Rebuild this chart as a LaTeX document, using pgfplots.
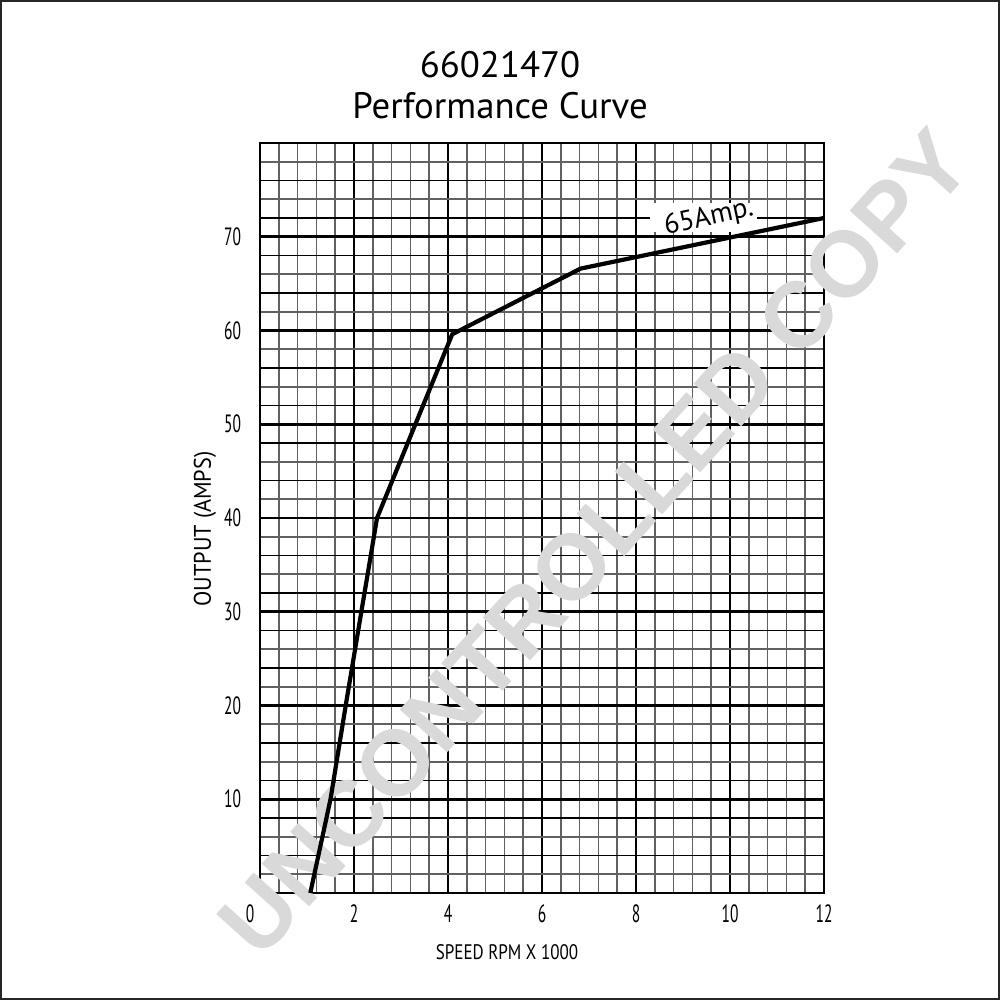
\documentclass[border=0pt]{standalone}
\usepackage{pgfplots}
\pgfplotsset{compat=1.18}
\usepackage{fontspec}
\setmainfont{PT Sans}
\newfontfamily\wmfont{Liberation Sans}
\definecolor{wm}{gray}{0.85}
\newcommand{\tl}[1]{\scalebox{0.62}[1]{#1}}
\begin{document}
\begin{tikzpicture}
\useasboundingbox (0,0) rectangle (500pt,500pt);
\fill[white] (0,0) rectangle (500pt,500pt);
\draw[black!85, line width=1pt] (0.5pt,0.5pt) rectangle (499.5pt,499.5pt);
\node[font=\fontsize{18.4}{22}\selectfont] at (250pt,467.5pt) {66021470};
\node[font=\fontsize{18.4}{22}\selectfont] at (250pt,447pt) {Performance Curve};
\node[rotate=90, font=\fontsize{12}{14}\selectfont] at (102.5pt,235.5pt) {\scalebox{0.93}[1]{OUTPUT (AMPS)}};
\node[font=\fontsize{10.5}{12}\selectfont] at (253.5pt,24pt) {\scalebox{0.81}[1]{SPEED RPM X 1000}};
\begin{axis}[at={(130pt,53.5pt)}, anchor=south west, width=282pt, height=375pt, scale only axis,
  xmin=0, xmax=12, ymin=0, ymax=80,
  xtick={0,2,4,6,8,10,12}, ytick={10,20,30,40,50,60,70},
  xticklabels={\tl{0}\hspace*{10pt},\tl{2},\tl{4},\tl{6},\tl{8},\tl{10},\tl{12}},
  yticklabels={\tl{10},\tl{20},\tl{30},\tl{40},\tl{50},\tl{60},\tl{70}},
  minor xtick={0.4,0.8,1.2,1.6,2.4,2.8,3.2,3.6,4.4,4.8,5.2,5.6,6.4,6.8,7.2,7.6,8.4,8.8,9.2,9.6,10.4,10.8,11.2,11.6},
  minor ytick={2,6,14,18,22,26,34,38,42,46,54,58,62,66,74,78},
  extra y ticks={4,8,12,16,24,28,32,36,44,48,52,56,64,68,72,76},
  extra y tick labels={},
  extra y tick style={grid=major, major grid style={black, line width=0.55pt}, major tick length=0},
  grid=both,
  major grid style={black, line width=1.3pt},
  minor grid style={black!62, line width=0.85pt},
  major tick length=0, minor tick length=0,
  axis line style={black, line width=1.3pt},
  xticklabel style={anchor=center, yshift=-10.5pt, font=\fontsize{12.5}{14}\selectfont},
  yticklabel style={anchor=center, xshift=-13.75pt, font=\fontsize{12.5}{14}\selectfont},
  clip=false,
]
\fill[white] (axis cs:8.3,70.5) rectangle (axis cs:10.57,73.6);
\node[rotate=48, text=wm, font=\wmfont\bfseries\fontsize{46.5}{52}\selectfont] at (axis cs:7.12,37.4) {UNCONTROLLED COPY};
\addplot[black, line width=2.1pt, mark=none] coordinates {
  (1.07,0) (1.5,10) (1.84,20.5) (2.49,40) (4.09,59.6) (6.82,66.6) (12,72)
};
\node[rotate=12, font=\fontsize{14}{16}\selectfont, inner sep=0pt] at (axis cs:9.55,72.0) {65Amp.};
\end{axis}
\end{tikzpicture}
\end{document}
